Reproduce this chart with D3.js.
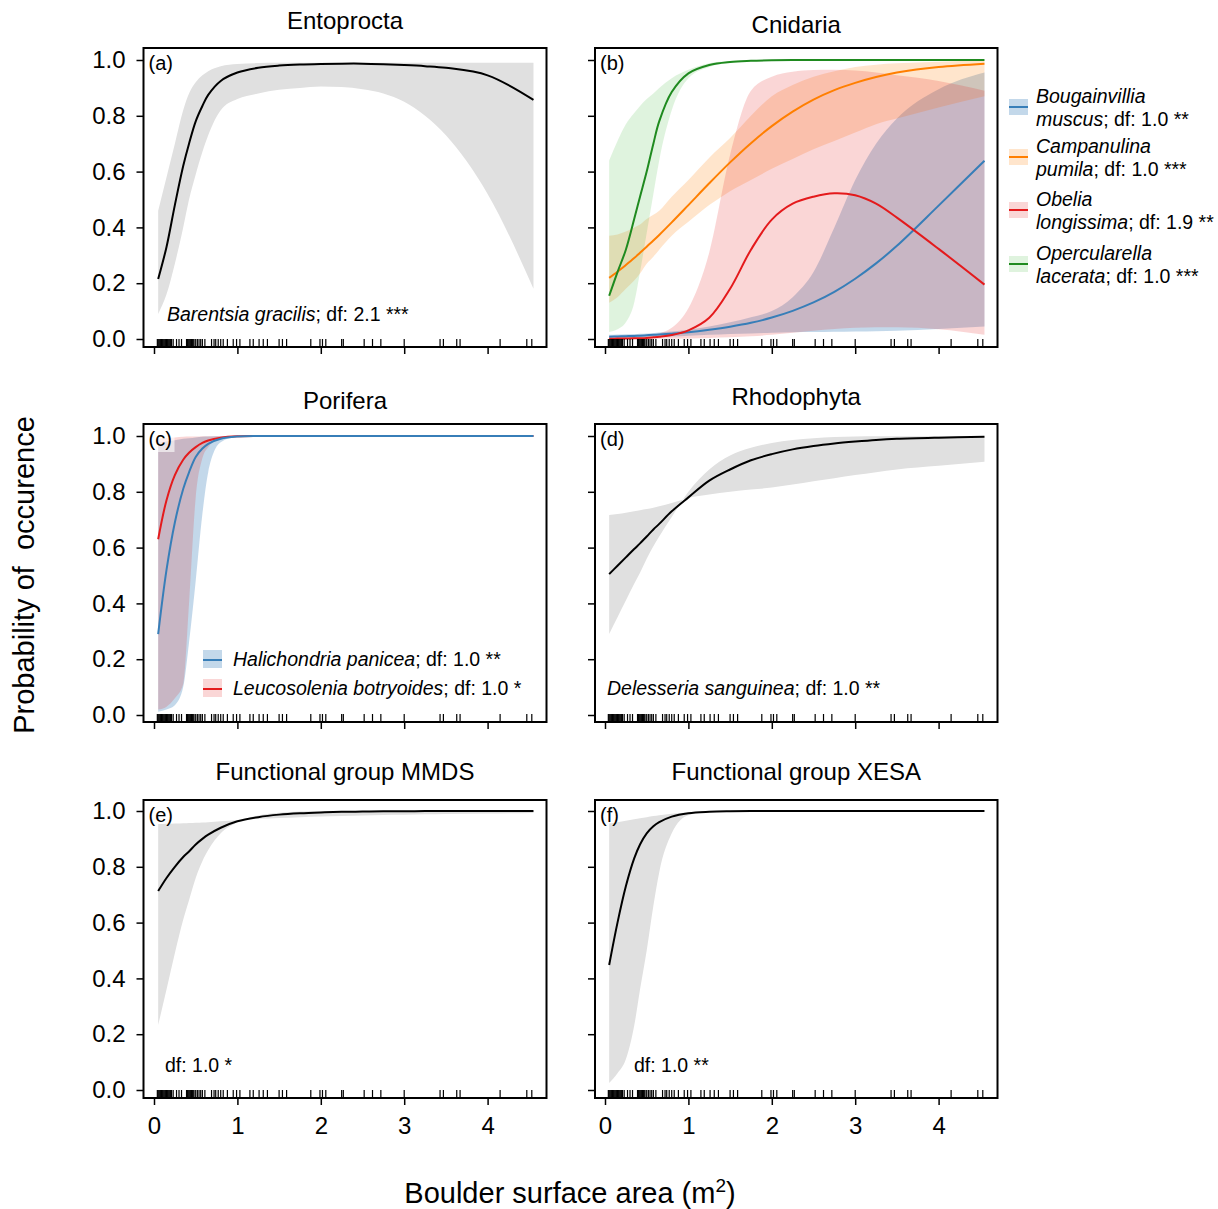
<!DOCTYPE html>
<html><head><meta charset="utf-8">
<script src="https://cdn.jsdelivr.net/npm/d3@7"></script>
<style>body{margin:0;background:#fff} svg{display:block} text{font-family:"Liberation Sans",Arial,sans-serif}</style>
</head><body><svg id="c" width="1218" height="1209"></svg>
<script>
// ---------- data ----------
const gridX = [0.05,0.15,0.25,0.35,0.42,0.5,0.58,0.65,0.8,1.0,1.25,1.5,1.75,2.0,2.25,2.5,2.75,3.0,3.25,3.5,4.0,4.55];
const rugX = [0.04,0.05,0.06,0.07,0.08,0.09,0.10,0.11,0.12,0.13,0.14,0.15,0.16,0.17,0.18,0.19,0.20,0.21,0.23,0.27,0.30,0.33,
  0.39,0.40,0.41,0.42,0.43,0.44,0.45,0.46,0.47,0.48,0.50,0.52,0.54,0.56,0.58,0.61,0.69,0.72,0.74,0.77,0.80,0.83,0.88,0.95,0.99,
  1.03,1.15,1.19,1.26,1.31,1.36,1.50,1.54,1.59,1.88,1.99,2.02,2.06,2.25,2.27,2.52,2.62,2.72,3.00,3.43,3.47,3.63,3.67,4.15,4.47,4.53];
const yTicks = [0,0.2,0.4,0.6,0.8,1.0];
const xTicks = [0,1,2,3,4];

// (a) Entoprocta - Barentsia gracilis
const barentsiaFit = [0.215,0.33,0.48,0.62,0.70,0.78,0.835,0.875,0.925,0.955,0.972,0.980,0.984,0.986,0.987,0.987,0.985,0.982,0.978,0.972,0.945,0.857];
const barentsiaHi  = [0.46,0.58,0.70,0.82,0.88,0.92,0.945,0.96,0.978,0.986,0.989,0.99,0.99,0.99,0.99,0.99,0.99,0.99,0.99,0.99,0.99,0.99];
const barentsiaLo  = [0.09,0.16,0.27,0.40,0.50,0.59,0.67,0.73,0.82,0.86,0.88,0.893,0.90,0.905,0.903,0.895,0.88,0.85,0.80,0.73,0.52,0.18];

// (b) Cnidaria
const bougainvilliaFit = [0.008,0.009,0.010,0.011,0.012,0.0135,0.015,0.016,0.019,0.024,0.033,0.044,0.058,0.077,0.101,0.131,0.169,0.216,0.271,0.334,0.478,0.639];
const bougainvilliaHi  = [0.015,0.016,0.017,0.018,0.019,0.02,0.021,0.023,0.027,0.033,0.045,0.06,0.078,0.10,0.15,0.24,0.40,0.57,0.70,0.79,0.895,0.955];
const bougainvilliaLo  = [0.002,0.003,0.004,0.004,0.005,0.006,0.006,0.007,0.009,0.012,0.015,0.018,0.02,0.022,0.024,0.025,0.026,0.027,0.028,0.03,0.036,0.045];
const campanulinaFit = [0.219,0.241,0.265,0.290,0.309,0.331,0.353,0.373,0.418,0.480,0.558,0.633,0.702,0.763,0.815,0.858,0.892,0.918,0.939,0.955,0.975,0.987];
const campanulinaHi  = [0.37,0.375,0.385,0.40,0.41,0.43,0.445,0.46,0.51,0.57,0.65,0.72,0.80,0.87,0.91,0.94,0.96,0.975,0.983,0.988,0.994,0.997];
const campanulinaLo  = [0.13,0.15,0.18,0.21,0.235,0.27,0.295,0.32,0.37,0.42,0.48,0.53,0.57,0.61,0.645,0.68,0.71,0.74,0.77,0.79,0.83,0.87];
const obeliaFit = [0.001,0.0015,0.002,0.0025,0.003,0.004,0.006,0.008,0.014,0.031,0.076,0.18,0.32,0.428,0.485,0.51,0.522,0.515,0.485,0.435,0.323,0.195];
const obeliaHi  = [0.004,0.005,0.006,0.008,0.01,0.012,0.015,0.02,0.04,0.11,0.31,0.66,0.89,0.94,0.958,0.964,0.965,0.962,0.955,0.945,0.925,0.89];
const obeliaLo  = [0.0005,0.0005,0.0005,0.0006,0.0007,0.0008,0.0009,0.001,0.0015,0.002,0.004,0.006,0.01,0.015,0.022,0.03,0.036,0.04,0.042,0.042,0.035,0.015];
const opercularellaFit = [0.155,0.24,0.32,0.43,0.51,0.60,0.70,0.78,0.885,0.952,0.982,0.993,0.997,0.999,1,1,1,1,1,1,1,1];
const opercularellaHi  = [0.64,0.71,0.77,0.81,0.835,0.86,0.88,0.90,0.935,0.965,0.988,0.996,0.999,1,1,1,1,1,1,1,1,1];
const opercularellaLo  = [0.025,0.035,0.06,0.13,0.24,0.38,0.52,0.64,0.82,0.935,0.975,0.99,0.995,0.998,0.999,1,1,1,1,1,1,1];

// (c) Porifera
const halichondriaFit = [0.29,0.52,0.69,0.81,0.87,0.925,0.955,0.972,0.99,0.998,1,1,1,1,1,1,1,1,1,1,1,1];
const halichondriaHi  = [0.975,0.98,0.985,0.99,0.992,0.995,0.997,0.998,0.999,1,1,1,1,1,1,1,1,1,1,1,1,1];
const halichondriaLo  = [0.012,0.02,0.035,0.1,0.26,0.48,0.72,0.87,0.978,0.997,1,1,1,1,1,1,1,1,1,1,1,1];
const leucosoleniaFit = [0.63,0.77,0.86,0.915,0.94,0.96,0.975,0.984,0.994,0.999,1,1,1,1,1,1,1,1,1,1,1,1];
const leucosoleniaHi  = [0.99,0.993,0.995,0.997,0.998,0.998,0.999,0.999,1,1,1,1,1,1,1,1,1,1,1,1,1,1];
const leucosoleniaLo  = [0.02,0.03,0.06,0.11,0.40,0.78,0.92,0.96,0.99,0.998,1,1,1,1,1,1,1,1,1,1,1,1];

// (d) Rhodophyta - Delesseria sanguinea
const delesseriaFit = [0.505,0.535,0.565,0.595,0.615,0.64,0.665,0.685,0.73,0.78,0.84,0.88,0.913,0.935,0.952,0.964,0.973,0.98,0.986,0.99,0.994,0.997];
const delesseriaB1  = [0.717,0.72,0.725,0.73,0.734,0.738,0.743,0.748,0.76,0.778,0.79,0.80,0.808,0.815,0.826,0.838,0.849,0.86,0.87,0.88,0.893,0.908];
const delesseriaB2  = [0.29,0.35,0.41,0.47,0.51,0.56,0.605,0.64,0.71,0.80,0.88,0.93,0.958,0.975,0.986,0.992,0.996,0.998,0.999,0.999,1,1];

// (e) Functional group MMDS
const mmdsFit = [0.713,0.76,0.80,0.835,0.855,0.88,0.90,0.915,0.94,0.963,0.978,0.987,0.992,0.995,0.997,0.998,0.999,0.999,1,1,1,1];
const mmdsB1  = [0.953,0.954,0.955,0.956,0.957,0.958,0.959,0.96,0.963,0.968,0.972,0.975,0.978,0.98,0.982,0.984,0.986,0.987,0.988,0.989,0.991,0.993];
const mmdsB2  = [0.233,0.36,0.49,0.61,0.68,0.76,0.82,0.86,0.92,0.96,0.984,0.994,0.998,0.999,1,1,1,1,1,1,1,1];

// (f) Functional group XESA
const xesaFit = [0.448,0.60,0.73,0.83,0.88,0.92,0.945,0.96,0.98,0.992,0.997,0.999,1,1,1,1,1,1,1,1,1,1];
const xesaB1  = [0.955,0.96,0.965,0.97,0.974,0.978,0.982,0.985,0.99,0.995,0.998,0.999,1,1,1,1,1,1,1,1,1,1];
const xesaB2  = [0.025,0.06,0.11,0.23,0.36,0.5,0.66,0.78,0.92,0.985,0.996,0.999,1,1,1,1,1,1,1,1,1,1];

const cnidariaLegend = [
  ['Bougainvillia','muscus','; df: 1.0 **'],
  ['Campanulina','pumila','; df: 1.0 ***'],
  ['Obelia','longissima','; df: 1.9 **'],
  ['Opercularella','lacerata','; df: 1.0 ***']
];
const poriferaLegend = [
  ['Halichondria panicea','; df: 1.0 **'],
  ['Leucosolenia botryoides','; df: 1.0 *']
];

// ---------- styles ----------
const GREY = '#e0e0e0';
const C = {
  blue:  {line:'#377eb8', band:'rgba(55,126,184,0.30)'},
  orange:{line:'#ff7f00', band:'rgba(255,127,0,0.20)'},
  red:   {line:'#e41a1c', band:'rgba(228,26,28,0.18)'},
  green: {line:'#1f8a1f', band:'rgba(77,190,74,0.18)'}
};

const panels = [
  {tag:'(a)', title:'Entoprocta', col:0, row:0, titleY:29,
   series:[{fit:barentsiaFit, lo:barentsiaLo, hi:barentsiaHi, line:'#000', band:GREY}],
   note:{x:167, y:321, it:'Barentsia gracilis', rest:'; df: 2.1 ***'}},
  {tag:'(b)', title:'Cnidaria', col:1, row:0, titleY:33,
   series:[
     {fit:bougainvilliaFit, lo:bougainvilliaLo, hi:bougainvilliaHi, line:C.blue.line, band:C.blue.band},
     {fit:campanulinaFit, lo:campanulinaLo, hi:campanulinaHi, line:C.orange.line, band:C.orange.band},
     {fit:obeliaFit, lo:obeliaLo, hi:obeliaHi, line:C.red.line, band:C.red.band},
     {fit:opercularellaFit, lo:opercularellaLo, hi:opercularellaHi, line:C.green.line, band:C.green.band}
   ]},
  {tag:'(c)', title:'Porifera', col:0, row:1, titleY:409, tagBox:true, linesReversed:true,
   series:[
     {fit:halichondriaFit, lo:halichondriaLo, hi:halichondriaHi, line:C.blue.line, band:C.blue.band},
     {fit:leucosoleniaFit, lo:leucosoleniaLo, hi:leucosoleniaHi, line:C.red.line, band:C.red.band}
   ]},
  {tag:'(d)', title:'Rhodophyta', col:1, row:1, titleY:405,
   series:[{fit:delesseriaFit, lo:delesseriaB2, hi:delesseriaB1, line:'#000', band:GREY}],
   note:{x:607, y:695, it:'Delesseria sanguinea', rest:'; df: 1.0 **'}},
  {tag:'(e)', title:'Functional group MMDS', col:0, row:2, titleY:780,
   series:[{fit:mmdsFit, lo:mmdsB2, hi:mmdsB1, line:'#000', band:GREY}],
   note:{x:165, y:1072, it:'', rest:'df: 1.0 *'}},
  {tag:'(f)', title:'Functional group XESA', col:1, row:2, titleY:780,
   series:[{fit:xesaFit, lo:xesaB2, hi:xesaB1, line:'#000', band:GREY}],
   note:{x:634, y:1072, it:'', rest:'df: 1.0 **'}}
];

// ---------- layout ----------
const cols = [{left:143.5,right:546.5,x0:154},{left:595,right:997.5,x0:605}];
const rows = [{top:48,bottom:347,y0:339,y1:60},{top:424,bottom:722,y0:715,y1:436},{top:800,bottom:1098,y0:1090,y1:811}];
const unit = 83.4;
const FONT = '"Liberation Sans",Arial,sans-serif';

const svg = d3.select('#c');

panels.forEach(p => {
  const c = cols[p.col], r = rows[p.row];
  const x = d3.scaleLinear().domain([0,4]).range([c.x0, c.x0 + 4*unit]);
  const y = d3.scaleLinear().domain([0,1]).range([r.y0, r.y1]);
  const g = svg.append('g');
  const area = d3.area().x((d,i)=>x(gridX[i])).y0(d=>y(d[0])).y1(d=>y(d[1])).curve(d3.curveMonotoneX);
  const line = d3.line().x((d,i)=>x(gridX[i])).y(d=>y(d)).curve(d3.curveCatmullRom.alpha(0.5));

  p.series.forEach(s => {
    g.append('path').attr('d', area(s.lo.map((v,i)=>[v, s.hi[i]]))).attr('fill', s.band).attr('stroke','none');
  });
  const lineSeries = p.linesReversed ? p.series.slice().reverse() : p.series;
  lineSeries.forEach(s => {
    g.append('path').attr('d', line(s.fit)).attr('fill','none').attr('stroke', s.line).attr('stroke-width',2);
  });

  // rug
  g.append('g').selectAll('line').data(rugX).join('line')
    .attr('x1', d=>x(d)).attr('x2', d=>x(d))
    .attr('y1', r.bottom).attr('y2', r.bottom-8)
    .attr('stroke','#000').attr('stroke-width',1.2);

  // box
  g.append('rect').attr('x',c.left).attr('y',r.top).attr('width',c.right-c.left).attr('height',r.bottom-r.top)
    .attr('fill','none').attr('stroke','#000').attr('stroke-width',2);

  // axes
  const ya = g.append('g').attr('transform',`translate(${c.left},0)`)
    .call(d3.axisLeft(y).tickValues(yTicks).tickFormat(p.col===0 ? d3.format('.1f') : ()=>'').tickSize(7).tickPadding(11));
  ya.select('.domain').remove();
  ya.attr('font-size',24).attr('font-family',FONT);
  ya.selectAll('line').attr('stroke-width',1.5);
  ya.selectAll('text').attr('fill','#000');

  const xa = g.append('g').attr('transform',`translate(0,${r.bottom})`)
    .call(d3.axisBottom(x).tickValues(xTicks).tickSize(7).tickPadding(12)
      .tickFormat(p.row===2 ? d3.format('d') : ()=>''));
  xa.select('.domain').remove();
  xa.attr('font-size',24).attr('font-family',FONT);
  xa.selectAll('line').attr('stroke-width',1.5);
  xa.selectAll('text').attr('fill','#000');

  // title
  svg.append('text').attr('x',(c.left+c.right)/2).attr('y',p.titleY).attr('text-anchor','middle')
    .attr('font-size',24).text(p.title);

  // tag
  if (p.tagBox) {
    svg.append('rect').attr('x',c.left+3).attr('y',r.top+4).attr('width',28).attr('height',24)
      .attr('fill','rgba(255,255,255,0.6)');
  }
  svg.append('text').attr('x',c.left+5).attr('y',r.top+22).attr('font-size',20).text(p.tag);

  // note
  if (p.note) {
    const t = svg.append('text').attr('x',p.note.x).attr('y',p.note.y).attr('font-size',19.5);
    if (p.note.it) t.append('tspan').attr('font-style','italic').text(p.note.it);
    t.append('tspan').text(p.note.rest);
  }
});

// Cnidaria legend
const cnColors = [C.blue, C.orange, C.red, C.green];
const cnY = [96, 146, 199, 253];
cnidariaLegend.forEach((e,i) => {
  const y0 = cnY[i];
  svg.append('rect').attr('x',1009).attr('y',y0+3).attr('width',19).attr('height',16).attr('fill',cnColors[i].band);
  svg.append('line').attr('x1',1009).attr('x2',1028).attr('y1',y0+11).attr('y2',y0+11)
    .attr('stroke',cnColors[i].line).attr('stroke-width',2);
  svg.append('text').attr('x',1036).attr('y',y0+7).attr('font-size',19.5).attr('font-style','italic').text(e[0]);
  const t = svg.append('text').attr('x',1036).attr('y',y0+30).attr('font-size',19.5);
  t.append('tspan').attr('font-style','italic').text(e[1]);
  t.append('tspan').text(e[2]);
});

// Porifera legend
const poColors = [C.blue, C.red];
const poY = [659, 688];
poriferaLegend.forEach((e,i) => {
  const yc = poY[i];
  svg.append('rect').attr('x',203).attr('y',yc-9).attr('width',19).attr('height',18).attr('fill',poColors[i].band);
  svg.append('line').attr('x1',203).attr('x2',222).attr('y1',yc+1).attr('y2',yc+1)
    .attr('stroke',poColors[i].line).attr('stroke-width',2);
  const t = svg.append('text').attr('x',233).attr('y',yc+7).attr('font-size',19.5);
  t.append('tspan').attr('font-style','italic').text(e[0]);
  t.append('tspan').text(e[1]);
});

// axis titles
svg.append('text').attr('transform','translate(34,575) rotate(-90)').attr('text-anchor','middle')
  .attr('font-size',29).text('Probability of\u00a0\u00a0occurence');
const xl = svg.append('text').attr('x',570).attr('y',1203).attr('text-anchor','middle').attr('font-size',29);
xl.append('tspan').text('Boulder surface area (m');
xl.append('tspan').attr('font-size',19).attr('dy',-11).text('2');
xl.append('tspan').attr('dy',11).text(')');
</script>
</body></html>
